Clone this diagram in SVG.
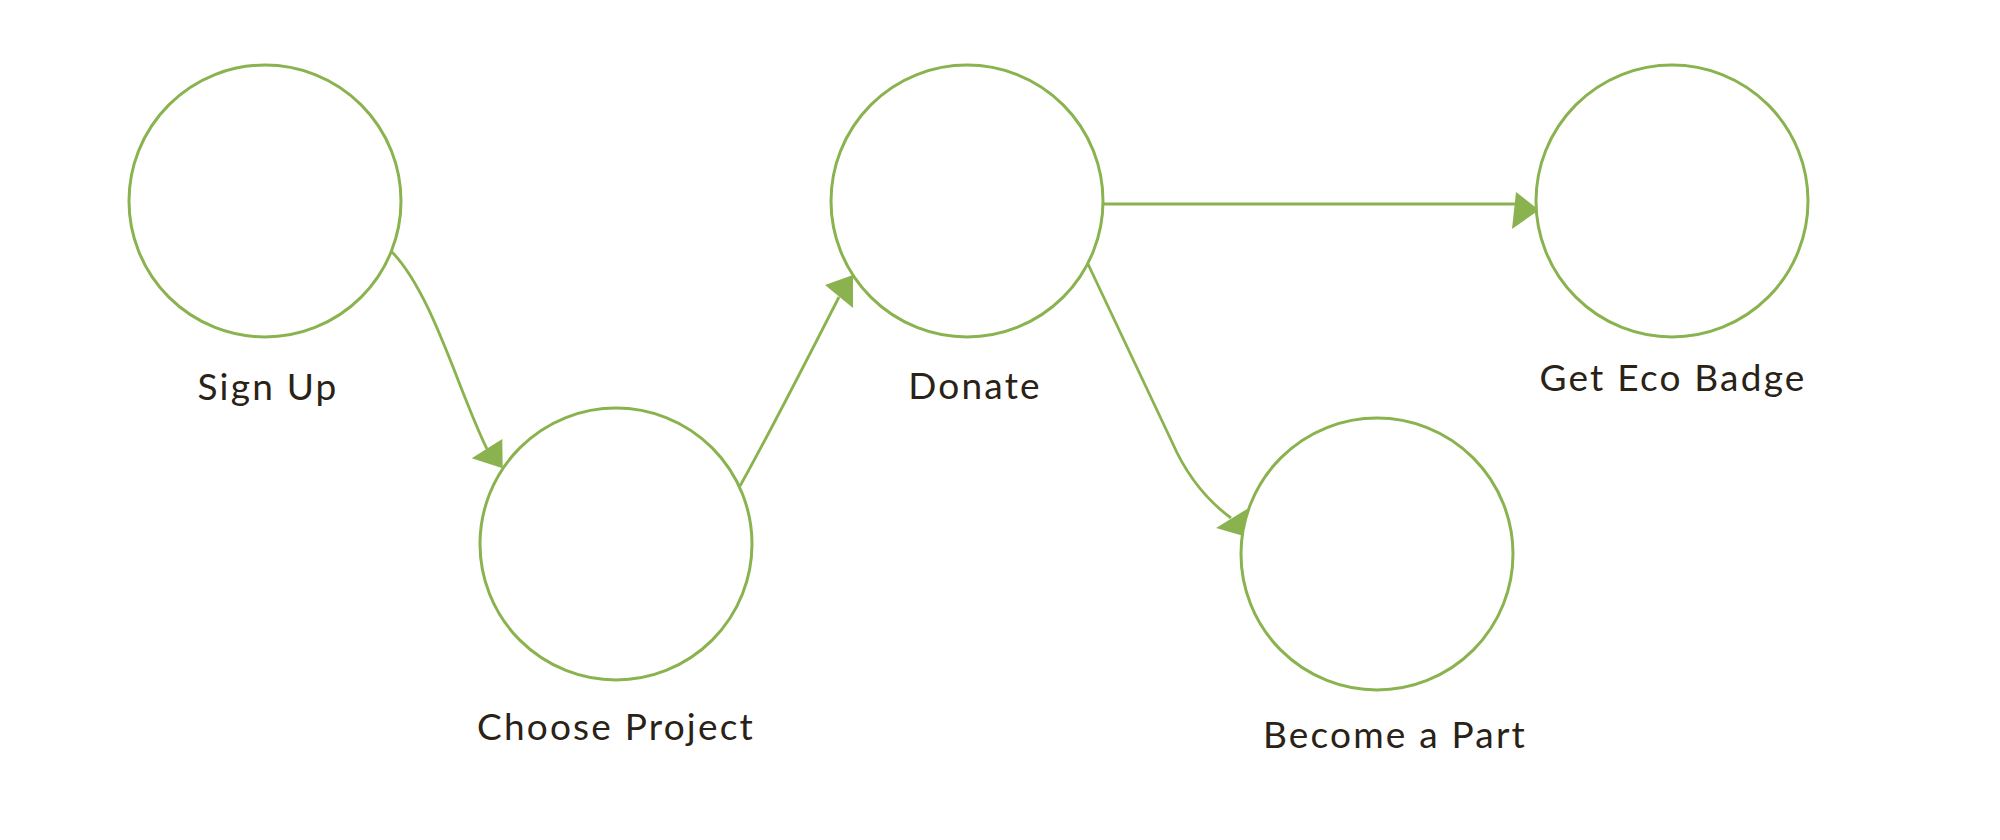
<svg xmlns="http://www.w3.org/2000/svg" width="2000" height="840" viewBox="0 0 2000 840">
<style>
.node{fill:#ffffff;stroke:#8ab34f;stroke-width:3}
.edge{fill:none;stroke:#8ab34f;stroke-width:2.8}
.head{fill:#8ab34f;stroke:none}
.label{font-family:Lato,"Noto Sans","Liberation Sans",sans-serif;font-size:37px;letter-spacing:2.2px;fill:#2a2216;text-anchor:middle}
</style>
<rect width="2000" height="840" fill="#ffffff"/>
<g id="connectors">
<path class="edge" d="M391,251 C432,292 458,390 487,449"/>
<polygon class="head" points="471.7,458.3 502.3,439 502.7,468.3"/>
<path class="edge" d="M740,486 C768,436 812,350 839,297"/>
<polygon class="head" points="825,285 853,275 853,308"/>
<path class="edge" d="M1103,204 L1516,204"/>
<polygon class="head" points="1516,192 1539,210 1512,229"/>
<path class="edge" d="M1088,264 L1172,442 Q1193,490 1231,518"/>
<polygon class="head" points="1216,528 1247,509 1247,537"/>
</g>
<g id="node-sign-up">
<circle class="node" cx="265" cy="201" r="136"/>
<text class="label" x="268" y="400">Sign Up</text>
</g>
<g id="node-choose-project">
<circle class="node" cx="616" cy="544" r="136"/>
<text class="label" x="616" y="740">Choose Project</text>
</g>
<g id="node-donate">
<circle class="node" cx="967" cy="201" r="136"/>
<text class="label" x="975" y="399">Donate</text>
</g>
<g id="node-get-eco-badge">
<circle class="node" cx="1672" cy="201" r="136"/>
<text class="label" x="1673" y="391">Get Eco Badge</text>
</g>
<g id="node-become-a-part">
<circle class="node" cx="1377" cy="554" r="136"/>
<text class="label" x="1395" y="748">Become a Part</text>
</g>
</svg>
